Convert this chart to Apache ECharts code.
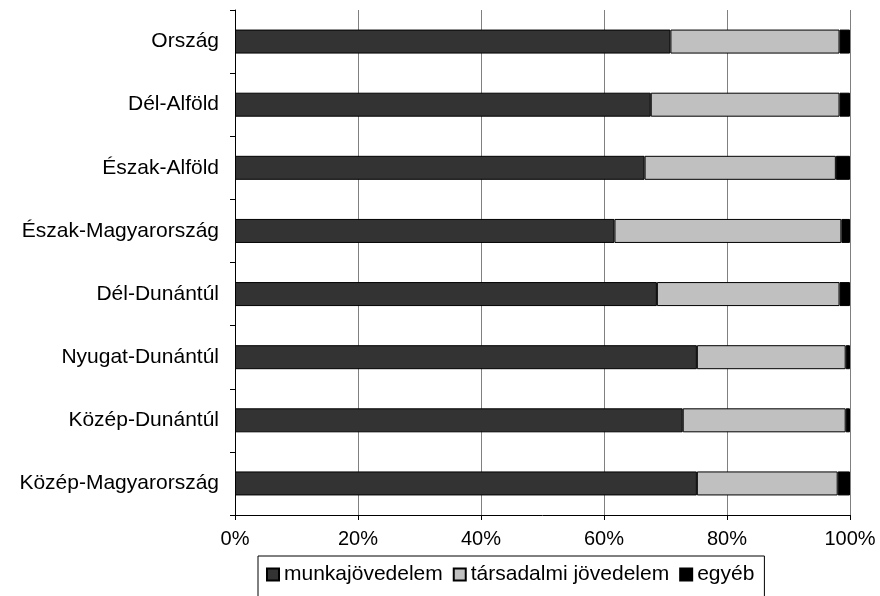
<!DOCTYPE html>
<html>
<head>
<meta charset="utf-8">
<script src="https://cdn.jsdelivr.net/npm/echarts@6/dist/echarts.min.js"></script>
<style>
  html, body { margin: 0; padding: 0; background: #fff; }
  #chart-container { width: 880px; height: 596px; }
</style>
</head>
<body>
<div id="chart-container"></div>
<script>
var regions = ['Ország', 'Dél-Alföld', 'Észak-Alföld', 'Észak-Magyarország',
    'Dél-Dunántúl', 'Nyugat-Dunántúl', 'Közép-Dunántúl', 'Közép-Magyarország'];
var munka = [70.8, 67.6, 66.6, 61.7, 68.6, 75.1, 72.8, 75.1];
var tarsadalmi = [27.5, 30.7, 31.1, 36.9, 29.7, 24.2, 26.5, 22.9];
var egyeb = [1.7, 1.7, 2.3, 1.4, 1.7, 0.7, 0.7, 2.0];
var seriesNames = ['munkajövedelem', 'társadalmi jövedelem', 'egyéb'];

var dom = document.getElementById('chart-container');
var myChart = echarts.init(dom, null, { renderer: 'canvas' });

function bar(name, data, color) {
    return {
        name: name,
        type: 'bar',
        stack: 'total',
        barWidth: 24,
        data: data,
        itemStyle: { color: color, borderColor: '#000', borderWidth: 1 }
    };
}

var option = {
    animation: false,
    backgroundColor: '#fff',
    textStyle: { fontFamily: 'Liberation Sans, Arial, sans-serif' },
    grid: { left: 235, right: 30, top: 10, bottom: 81 },
    legend: {
        top: 556,
        left: 258,
        icon: 'rect',
        itemWidth: 12,
        itemHeight: 12,
        itemGap: 10,
        borderColor: '#000',
        borderWidth: 1,
        borderRadius: 0,
        padding: [8, 10, 14, 8],
        textStyle: { fontSize: 21, color: '#000' },
        data: seriesNames
    },
    xAxis: {
        type: 'value',
        min: 0,
        max: 100,
        interval: 20,
        axisLine: { show: true, lineStyle: { color: '#000' } },
        axisTick: { show: true, length: 5, lineStyle: { color: '#000' } },
        axisLabel: { formatter: '{value}%', fontSize: 20, color: '#000', margin: 14 },
        splitLine: { show: true, lineStyle: { color: '#808080', width: 1 } }
    },
    yAxis: {
        type: 'category',
        inverse: true,
        data: regions,
        axisLine: { show: true, lineStyle: { color: '#000' } },
        axisTick: { show: true, length: 5, lineStyle: { color: '#000' } },
        axisLabel: { fontSize: 21, color: '#000', margin: 16 }
    },
    series: [
        bar(seriesNames[0], munka, '#333333'),
        bar(seriesNames[1], tarsadalmi, '#c0c0c0'),
        bar(seriesNames[2], egyeb, '#000000')
    ]
};

myChart.setOption(option);
window.addEventListener('resize', myChart.resize);
</script>
</body>
</html>
